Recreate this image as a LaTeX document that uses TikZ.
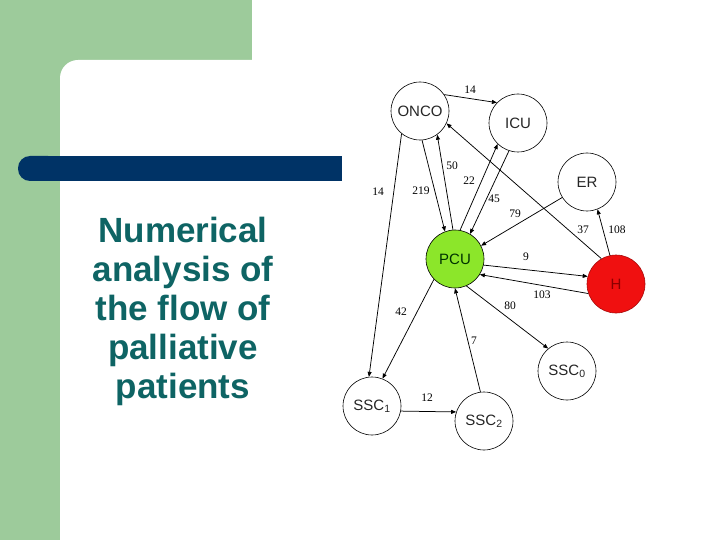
\documentclass[tikz,border=0pt]{standalone}
\usepackage{fontspec}
\setmainfont{Liberation Sans}
\newfontfamily\serifnum{Liberation Serif}
\usetikzlibrary{arrows.meta}
\definecolor{bggreen}{HTML}{9DCB9B}
\definecolor{barblue}{HTML}{003366}
\definecolor{titleteal}{HTML}{0E6464}
\definecolor{pcugreen}{HTML}{8CE62A}
\definecolor{hred}{HTML}{F01010}
\definecolor{hdark}{HTML}{8A0000}
\begin{document}
\begin{tikzpicture}[x=1pt,y=-1pt,
  state/.style={circle,draw=black,line width=0.6pt,minimum size=58pt,inner sep=0pt,
    font=\fontsize{15}{15}\selectfont,fill=white,text=black!85},
  flow/.style={draw=black,line width=0.75pt,-{Triangle[length=5pt,width=4pt]}},
  num/.style={font=\serifnum\fontsize{11.5}{11.5}\selectfont,inner sep=0pt}]
\useasboundingbox (0,0) rectangle (720,540);
\begin{scope}
\clip (0,0) rectangle (720,540);
\fill[bggreen] (0,0) rectangle (720,540);
\fill[white] (252,0) rectangle (720,60);
\fill[white] (60,600) [rounded corners=18pt] -- (60,60) [sharp corners] -- (780,60) -- (780,600) -- cycle;
\fill[barblue] (30,156) rectangle (342,181);
\fill[barblue,rounded corners=12pt] (18,156) rectangle (60,181);
\end{scope}

\node[text=titleteal,align=center,font=\bfseries\fontsize{35}{39}\selectfont] (title) at (183,311)
  {Numerical\\analysis of\\the flow of\\palliative\\patients};

\node[state] (onco) at (420,111) {ONCO};
\node[state] (icu) at (518,123) {ICU};
\node[state] (er) at (587,182) {ER};
\node[state,fill=pcugreen,text=black!80!green] (pcu) at (455,259) {PCU};
\node[state,fill=hred,draw=hred!70!black,text=hdark] (h) at (616,284) {H};
\node[state] (ssc1) at (372,406) {SSC\textsubscript{1}};
\node[state] (ssc2) at (484,421) {SSC\textsubscript{2}};
\node[state] (ssc0) at (567,371) {SSC\textsubscript{0}};

\draw[flow] (onco.34) -- (icu.136);
\draw[flow] (onco.-129) -- (ssc1.96);
\draw[flow] (onco.-86) -- (pcu.110);
\draw[flow] (pcu.94) -- (onco.-54);
\draw[flow] (pcu.80) -- (icu.-134);
\draw[flow] (icu.-108) -- (pcu.59);
\draw[flow] (h.120) -- (onco.-25);
\draw[flow] (er.-148) -- (pcu.27);
\draw[flow] (h.102) -- (er.-69);
\draw[flow] (pcu.-12) -- (h.165);
\draw[flow] (h.-161) -- (pcu.-32);
\draw[flow] (pcu.-136) -- (ssc1.69);
\draw[flow] (ssc2.97) -- (pcu.-90);
\draw[flow] (pcu.-67) -- (ssc0.130);
\draw[flow] (ssc1.-10) -- (ssc2.162);

\node[num] (l1) at (470,90) {14};
\node[num] (l2) at (378,192) {14};
\node[num] (l3) at (421,191) {219};
\node[num] (l4) at (452,166) {50};
\node[num] (l5) at (469,181) {22};
\node[num] (l6) at (494,199) {45};
\node[num] (l7) at (583,230) {37};
\node[num] (l8) at (515,214) {79};
\node[num] (l9) at (617,230) {108};
\node[num] (l10) at (526,257) {9};
\node[num] (l11) at (542,295) {103};
\node[num] (l12) at (401,312) {42};
\node[num] (l13) at (474,341) {7};
\node[num] (l14) at (510,306) {80};
\node[num] (l15) at (427,398) {12};
\end{tikzpicture}
\end{document}
